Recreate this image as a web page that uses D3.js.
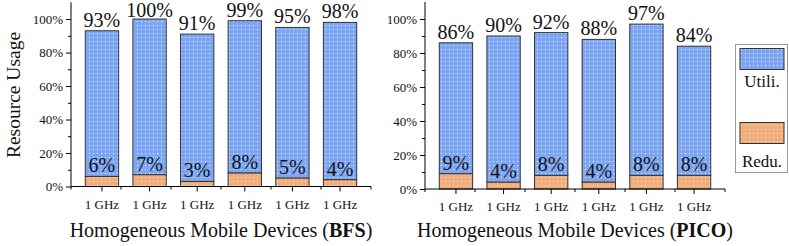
<!DOCTYPE html>
<html>
<head>
<script src="https://cdn.jsdelivr.net/npm/d3@7"></script>
<style>
  body { margin: 0; background: #fff; }
  text { font-family: "Liberation Serif", "Times New Roman", serif; fill: #111; }
</style>
</head>
<body>
<script>
// data
var devices = ["1 GHz", "1 GHz", "1 GHz", "1 GHz", "1 GHz", "1 GHz"];
var bfsUtil = [93, 100, 91, 99, 95, 98];
var bfsRedu = [6, 7, 3, 8, 5, 4];
var picoUtil = [86, 90, 92, 88, 97, 84];
var picoRedu = [9, 4, 8, 4, 8, 8];
var yTicks = [0, 20, 40, 60, 80, 100];
var legendNames = ["Utili.", "Redu."];

var blue = "#7da6f3", orange = "#f2ad7c";

var svg = d3.select("body").append("svg").attr("width", 789).attr("height", 246);

// dotted fill like the original plot
var defs = svg.append("defs");
function makePattern(id, color) {
  var p = defs.append("pattern").attr("id", id).attr("patternUnits", "userSpaceOnUse")
    .attr("width", 4).attr("height", 4);
  p.append("rect").attr("width", 4).attr("height", 4).attr("fill", color);
  p.append("rect").attr("x", 1).attr("y", 1).attr("width", 1).attr("height", 1)
    .attr("fill", "#fff").attr("opacity", 0.85);
}
makePattern("pBlue", blue);
makePattern("pOrange", orange);

function drawPanel(left, bottom, top, util, redu, title) {
  var x = d3.scaleBand().domain(d3.range(devices.length)).range([left, left + 300]).padding(0.3);
  var y = d3.scaleLinear().domain([0, 110]).range([bottom, top]);
  var g = svg.append("g");

  // bars: redu at bottom, util on top of it
  g.selectAll(".u").data(util).enter().append("rect")
    .attr("x", function(d, i) { return x(i); })
    .attr("width", x.bandwidth())
    .attr("y", function(d) { return y(d); })
    .attr("height", function(d, i) { return y(redu[i]) - y(d); })
    .attr("fill", "url(#pBlue)").attr("stroke", "#333").attr("stroke-width", 1);
  g.selectAll(".r").data(redu).enter().append("rect")
    .attr("x", function(d, i) { return x(i); })
    .attr("width", x.bandwidth())
    .attr("y", function(d) { return y(d); })
    .attr("height", function(d) { return y(0) - y(d); })
    .attr("fill", "url(#pOrange)").attr("stroke", "#333").attr("stroke-width", 1);

  // labels (keep the tallest one inside the page)
  g.selectAll(".lu").data(util).enter().append("text")
    .attr("x", function(d, i) { return x(i) + x.bandwidth() / 2; })
    .attr("y", function(d) { return Math.max(y(d) - 4, 17); })
    .attr("text-anchor", "middle").style("font-size", "20px")
    .text(function(d) { return d + "%"; });
  g.selectAll(".lr").data(redu).enter().append("text")
    .attr("x", function(d, i) { return x(i) + x.bandwidth() / 2; })
    .attr("y", function(d) { return y(d) - 4; })
    .attr("text-anchor", "middle").style("font-size", "20px")
    .text(function(d) { return d + "%"; });

  // y axis
  var yAxis = g.append("g").attr("transform", "translate(" + left + ",0)")
    .call(d3.axisLeft(y).tickValues(yTicks).tickSize(5).tickPadding(3)
      .tickFormat(function(d) { return d + "%"; }));
  yAxis.select(".domain").attr("d", "M0," + y(0) + "V" + y(110));
  yAxis.selectAll("text").style("font-size", "13px");
  g.append("g").attr("transform", "translate(" + left + ",0)")
    .call(d3.axisLeft(y).tickValues([10, 30, 50, 70, 90]).tickSize(3).tickFormat(""))
    .select(".domain").remove();

  // x axis
  var xAxis = g.append("g").attr("transform", "translate(0," + bottom + ")")
    .call(d3.axisBottom(x).tickSize(5).tickPadding(8).tickFormat(function(d) { return devices[d]; }));
  xAxis.select(".domain").attr("d", "M" + left + ",0H" + (left + 300));
  xAxis.selectAll("text").style("font-size", "13px");
  var bounds = d3.range(devices.length + 1).map(function(i) { return left + i * 50; });
  g.selectAll(".mt").data(bounds).enter().append("line")
    .attr("x1", function(d) { return d; }).attr("x2", function(d) { return d; })
    .attr("y1", bottom).attr("y2", bottom + 3).attr("stroke", "#000");

  // title
  var t = g.append("text").attr("x", left + 150).attr("y", 237)
    .attr("text-anchor", "middle").style("font-size", "20px");
  t.append("tspan").text("Homogeneous Mobile Devices  (");
  t.append("tspan").style("font-weight", "bold").text(title);
  t.append("tspan").text(")");
}

drawPanel(71, 186.5, 2.3, bfsUtil, bfsRedu, "BFS");
drawPanel(425, 189, 2, picoUtil, picoRedu, "PICO");

// y title
svg.append("text").attr("transform", "translate(20,95) rotate(-90)")
  .attr("text-anchor", "middle").style("font-size", "19.5px").text("Resource Usage");

// legend
var lg = svg.append("g");
lg.append("rect").attr("x", 735.5).attr("y", 44.5).attr("width", 52).attr("height", 128)
  .attr("fill", "#fff").attr("stroke", "#999");
var legFill = ["url(#pBlue)", "url(#pOrange)"];
lg.selectAll(".sw").data(legendNames).enter().append("rect")
  .attr("x", 740).attr("y", function(d, i) { return 48.5 + i * 74; })
  .attr("width", 44).attr("height", 21)
  .attr("fill", function(d, i) { return legFill[i]; }).attr("stroke", "#333");
lg.selectAll(".lt").data(legendNames).enter().append("text")
  .attr("x", 762).attr("y", function(d, i) { return 87 + i * 80; })
  .attr("text-anchor", "middle").style("font-size", "17px")
  .text(function(d) { return d; });
</script>
</body>
</html>
